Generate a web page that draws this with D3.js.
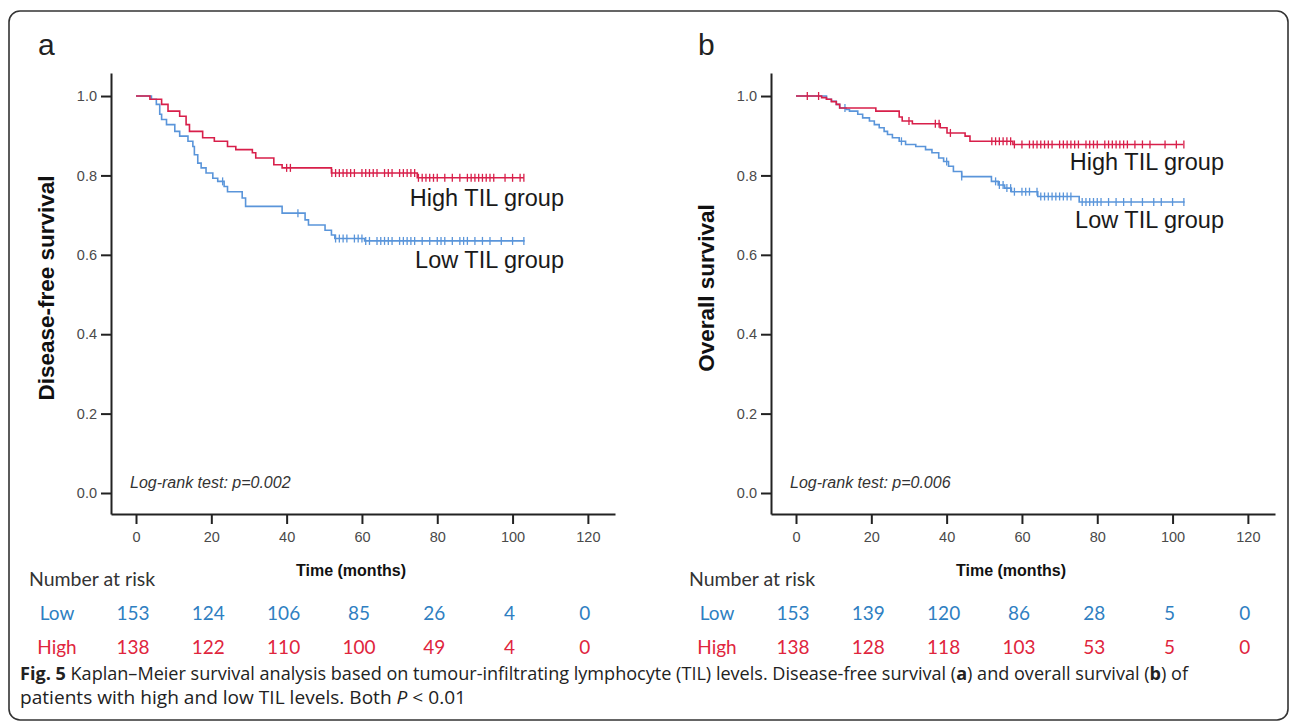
<!DOCTYPE html>
<html>
<head>
<meta charset="utf-8">
<script src="https://cdn.jsdelivr.net/npm/d3@7"></script>
<style>
  body { margin: 0; background: #fff; }
  svg { display: block; }
</style>
</head>
<body>
<script>
// survival steps: [month, survival]
const dfsHigh = [[0,1],[3.7,0.992],[6.8,0.979],[8.5,0.962],[11.6,0.949],[13.3,0.928],[14.2,0.911],[17.7,0.895],[20.8,0.886],[24.3,0.873],[26.5,0.865],[30.9,0.857],[31.8,0.844],[36.6,0.827],[38.8,0.819],[51.9,0.806],[74.7,0.794],[103,0.794]];
const dfsLow = [[0,1],[4.1,0.992],[5.4,0.979],[6.3,0.954],[6.8,0.941],[8.1,0.928],[10.3,0.911],[11.6,0.899],[13.8,0.886],[15.1,0.873],[15.5,0.852],[16.4,0.831],[17.3,0.819],[18.6,0.806],[20.4,0.793],[21.7,0.785],[23.4,0.772],[24.3,0.759],[28.2,0.743],[29.1,0.722],[38.8,0.705],[44.9,0.688],[45.8,0.675],[50.2,0.662],[51.9,0.65],[52.8,0.641],[60.7,0.635],[103.2,0.635]];
const osHigh = [[0,1],[6.8,0.996],[8.1,0.992],[9.4,0.986],[10.7,0.979],[11.6,0.97],[21.2,0.962],[27.4,0.947],[28.2,0.937],[30.9,0.93],[38.3,0.92],[40.1,0.907],[44.9,0.899],[46.2,0.886],[57.6,0.878],[102.8,0.878]];
const osLow = [[0,1],[8.1,0.992],[9.4,0.987],[10.7,0.979],[11.6,0.97],[13.3,0.966],[14.2,0.962],[16.4,0.954],[17.7,0.945],[19.5,0.937],[20.8,0.928],[22.1,0.92],[23.4,0.911],[24.3,0.903],[25.6,0.895],[27.4,0.886],[29.1,0.878],[31.8,0.873],[34.4,0.865],[36.1,0.857],[37.9,0.844],[39.2,0.835],[40.5,0.823],[41.8,0.81],[44,0.797],[51.9,0.785],[53.7,0.776],[55.4,0.768],[57.2,0.759],[64.2,0.747],[75.2,0.733],[103.2,0.733]];

// censoring times (months)
const dfsHighCens = [40,41,52,53,54,55,56,57,58,60,61,62,63,64,66,67,68,70,71,72,73,74,75,76,77,78,79,80,82,84,86,88,89,90,91,92,93,94,95,98,100,102,103];
const dfsLowCens = [23,43,53,54,55,56,58,59,60,61,62,64,65,66,67,68,70,71,72,73,74,76,78,80,81,82,84,86,87,88,90,92,94,97,100,103];
const osHighCens = [3,6,30,37,38,41,52,53,54,55,56,57,58,60,62,63,64,65,66,67,68,70,71,72,73,74,75,77,78,79,80,82,83,84,85,86,87,88,90,92,94,98,101,103];
const osLowCens = [13,28,40,44,53,54,55,56,57,58,60,61,62,64,65,66,67,68,69,70,71,72,73,76,77,78,79,80,81,83,85,87,89,92,95,97,100,103];

// number at risk
const riskTimes = [0, 20, 40, 60, 80, 100, 120];
const dfsRiskLow = [153, 124, 106, 85, 26, 4, 0];
const dfsRiskHigh = [138, 122, 110, 100, 49, 4, 0];
const osRiskLow = [153, 139, 120, 86, 28, 5, 0];
const osRiskHigh = [138, 128, 118, 103, 53, 5, 0];

const yTicks = [0, 0.2, 0.4, 0.6, 0.8, 1.0];

const red = "#d81f4a", blue = "#5a95da";
const redText = "#e0253d", blueText = "#2f7fc2";

const W = 1292, H = 727;
const svg = d3.select("body").append("svg")
    .attr("width", W)
    .attr("height", H);

// frame
svg.append("rect")
    .attr("x", 9).attr("y", 11)
    .attr("width", 1279).attr("height", 709)
    .attr("rx", 11).attr("ry", 11)
    .attr("fill", "none")
    .attr("stroke", "#333")
    .attr("stroke-width", 1.6);

function survAt(steps, t) {
  let s = 1;
  steps.forEach(d => { if (d[0] <= t) s = d[1]; });
  return s;
}

function drawPanel(o) {
  const g = svg.append("g").attr("transform", `translate(${o.dx},0)`);

  // x: 0 -> 136, 120 -> 588 ; axis line runs 111..615
  const x = d3.scaleLinear().domain([-6.64, 127.2]).range([111, 615]);
  // y: 0 -> 493, 1 -> 96 ; axis line runs 514..73
  const y = d3.scaleLinear().domain([-0.0529, 1.058]).range([514, 73]);

  g.append("text")
      .attr("x", 38).attr("y", 55)
      .attr("font-family", "Liberation Sans, Arial, sans-serif")
      .attr("font-size", 30)
      .attr("fill", "#222")
      .text(o.letter);

  const xAxis = g.append("g")
      .attr("transform", "translate(0,514)")
      .call(d3.axisBottom(x).tickValues(riskTimes).tickSize(10).tickSizeOuter(0).tickPadding(8));
  const yAxis = g.append("g")
      .attr("transform", "translate(111,0)")
      .call(d3.axisLeft(y).tickValues(yTicks).tickFormat(d3.format(".1f")).tickSize(10).tickSizeOuter(0).tickPadding(4));

  [xAxis, yAxis].forEach(a => {
    a.select(".domain").attr("stroke", "#222").attr("stroke-width", 2);
    a.selectAll(".tick line").attr("stroke", "#222").attr("stroke-width", 2);
    a.selectAll(".tick text")
        .attr("font-family", "Liberation Sans, Arial, sans-serif")
        .attr("font-size", 14.5)
        .attr("fill", "#4a4a4a");
  });

  g.append("text")
      .attr("transform", "translate(54,288) rotate(-90)")
      .attr("text-anchor", "middle")
      .attr("font-family", "Liberation Sans, Arial, sans-serif")
      .attr("font-weight", "bold")
      .attr("font-size", 22.5)
      .attr("fill", "#111")
      .text(o.yTitle);

  g.append("text")
      .attr("x", 351).attr("y", 576)
      .attr("text-anchor", "middle")
      .attr("font-family", "Liberation Sans, Arial, sans-serif")
      .attr("font-weight", "bold")
      .attr("font-size", 16)
      .attr("fill", "#111")
      .text("Time (months)");

  const line = d3.line()
      .x(d => x(d[0]))
      .y(d => y(d[1]))
      .curve(d3.curveStepAfter);

  [[o.low, o.lowCens, blue], [o.high, o.highCens, red]].forEach(([steps, cens, col]) => {
    g.append("path")
        .datum(steps)
        .attr("d", line)
        .attr("fill", "none")
        .attr("stroke", col)
        .attr("stroke-width", 1.6);
    g.selectAll(null)
        .data(cens)
        .enter().append("line")
        .attr("x1", d => x(d)).attr("x2", d => x(d))
        .attr("y1", d => y(survAt(steps, d)) - 4)
        .attr("y2", d => y(survAt(steps, d)) + 4)
        .attr("stroke", col)
        .attr("stroke-width", 1.3);
  });

  const lab = (t, yy) => g.append("text")
      .attr("x", 564).attr("y", yy)
      .attr("text-anchor", "end")
      .attr("font-family", "Liberation Sans, Arial, sans-serif")
      .attr("font-size", 23.5)
      .attr("fill", "#1a1a1a")
      .text(t);
  lab("High TIL group", o.highLabY);
  lab("Low TIL group", o.lowLabY);

  g.append("text")
      .attr("x", 130).attr("y", 488)
      .attr("font-family", "Liberation Sans, Arial, sans-serif")
      .attr("font-style", "italic")
      .attr("font-size", 16)
      .attr("fill", "#333")
      .text(o.logrank);

  // number at risk table
  const tf = "Lato, 'Open Sans', sans-serif";
  g.append("text")
      .attr("x", 29).attr("y", 586)
      .attr("font-family", tf)
      .attr("font-size", 19.5)
      .attr("fill", "#333")
      .text("Number at risk");

  [["Low", o.riskLow, blueText, 620], ["High", o.riskHigh, redText, 654]].forEach(([name, vals, col, yy]) => {
    g.append("text")
        .attr("x", 57).attr("y", yy)
        .attr("text-anchor", "middle")
        .attr("font-family", tf)
        .attr("font-size", 19)
        .attr("fill", col)
        .text(name);
    g.selectAll(null)
        .data(vals)
        .enter().append("text")
        .attr("x", (d, i) => x(riskTimes[i]) - 3)
        .attr("y", yy)
        .attr("text-anchor", "middle")
        .attr("font-family", tf)
        .attr("font-size", 19)
        .attr("fill", col)
        .text(d => d);
  });
}

drawPanel({
  dx: 0, letter: "a", yTitle: "Disease-free survival",
  high: dfsHigh, low: dfsLow, highCens: dfsHighCens, lowCens: dfsLowCens,
  highLabY: 206, lowLabY: 268,
  logrank: "Log-rank test: p=0.002",
  riskLow: dfsRiskLow, riskHigh: dfsRiskHigh
});
drawPanel({
  dx: 660, letter: "b", yTitle: "Overall survival",
  high: osHigh, low: osLow, highCens: osHighCens, lowCens: osLowCens,
  highLabY: 170, lowLabY: 228,
  logrank: "Log-rank test: p=0.006",
  riskLow: osRiskLow, riskHigh: osRiskHigh
});

// caption
const cf = "'Liberation Sans Narrow', 'Open Sans', sans-serif";
const c1 = svg.append("text")
    .attr("x", 20).attr("y", 680)
    .attr("font-family", cf)
    .attr("font-size", 18)
    .attr("fill", "#222")
    .attr("textLength", 1168)
    .attr("lengthAdjust", "spacingAndGlyphs");
c1.append("tspan").attr("font-weight", "bold").text("Fig. 5");
c1.append("tspan").text(" Kaplan–Meier survival analysis based on tumour-infiltrating lymphocyte (TIL) levels. Disease-free survival (");
c1.append("tspan").attr("font-weight", "bold").text("a");
c1.append("tspan").text(") and overall survival (");
c1.append("tspan").attr("font-weight", "bold").text("b");
c1.append("tspan").text(") of");

const c2 = svg.append("text")
    .attr("x", 20).attr("y", 704)
    .attr("font-family", cf)
    .attr("font-size", 18)
    .attr("fill", "#222")
    .attr("textLength", 446)
    .attr("lengthAdjust", "spacingAndGlyphs");
c2.append("tspan").text("patients with high and low TIL levels. Both ");
c2.append("tspan").attr("font-style", "italic").text("P");
c2.append("tspan").text(" < 0.01");
</script>
</body>
</html>
